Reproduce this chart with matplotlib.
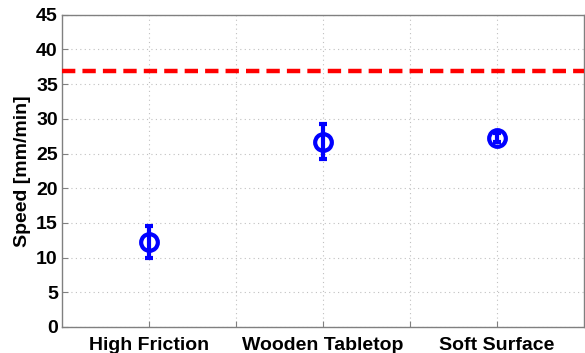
import matplotlib
matplotlib.use("Agg")
import matplotlib.pyplot as plt
import numpy as np

categories = ["High Friction", "Wooden Tabletop", "Soft Surface"]
speed_mean = [12.3, 26.7, 27.3]
speed_err = [2.3, 2.5, 0.6]
reference_speed = 36.9

plt.rcParams['font.family'] = ['Liberation Sans', 'DejaVu Sans']
plt.rcParams['font.weight'] = 'bold'

fig = plt.figure(figsize=(5.85, 3.53), dpi=100)
ax = fig.add_axes([0.106, 0.074, 0.892, 0.884])

x = np.arange(1, len(categories) + 1)
ax.axhline(reference_speed, color='#ff0000', linestyle=(0, (3, 1.6)), linewidth=3.2, zorder=3)
ax.errorbar(x, speed_mean, yerr=speed_err, fmt='o', color='#0000ff', mfc='none',
            mec='#0000ff', ms=12, mew=3, elinewidth=3, capsize=3, capthick=3, zorder=4)

ax.set_xlim(0.5, 3.5)
ax.set_ylim(0, 45)
ax.set_yticks(np.arange(0, 46, 5))
ticks = [1, 1.5, 2, 2.5, 3]
ax.set_xticks(ticks)
ax.set_xticklabels([categories[0], "", categories[1], "", categories[2]])
ax.tick_params(axis='both', labelsize=14, direction='in', length=4, color='#808080', pad=3)
ax.tick_params(axis='x', pad=7)
for lab in ax.get_xticklabels() + ax.get_yticklabels():
    lab.set_fontweight('bold')
ax.grid(True, linestyle=(0, (1, 3)), color='#c0c0c0', linewidth=0.8)
ax.set_axisbelow(True)
for s in ax.spines.values():
    s.set_color('#808080')
    s.set_linewidth(1.0)
ax.set_ylabel("Speed [mm/min]", fontsize=14, fontweight='bold', labelpad=4)

fig.savefig("out.png", dpi=100)
